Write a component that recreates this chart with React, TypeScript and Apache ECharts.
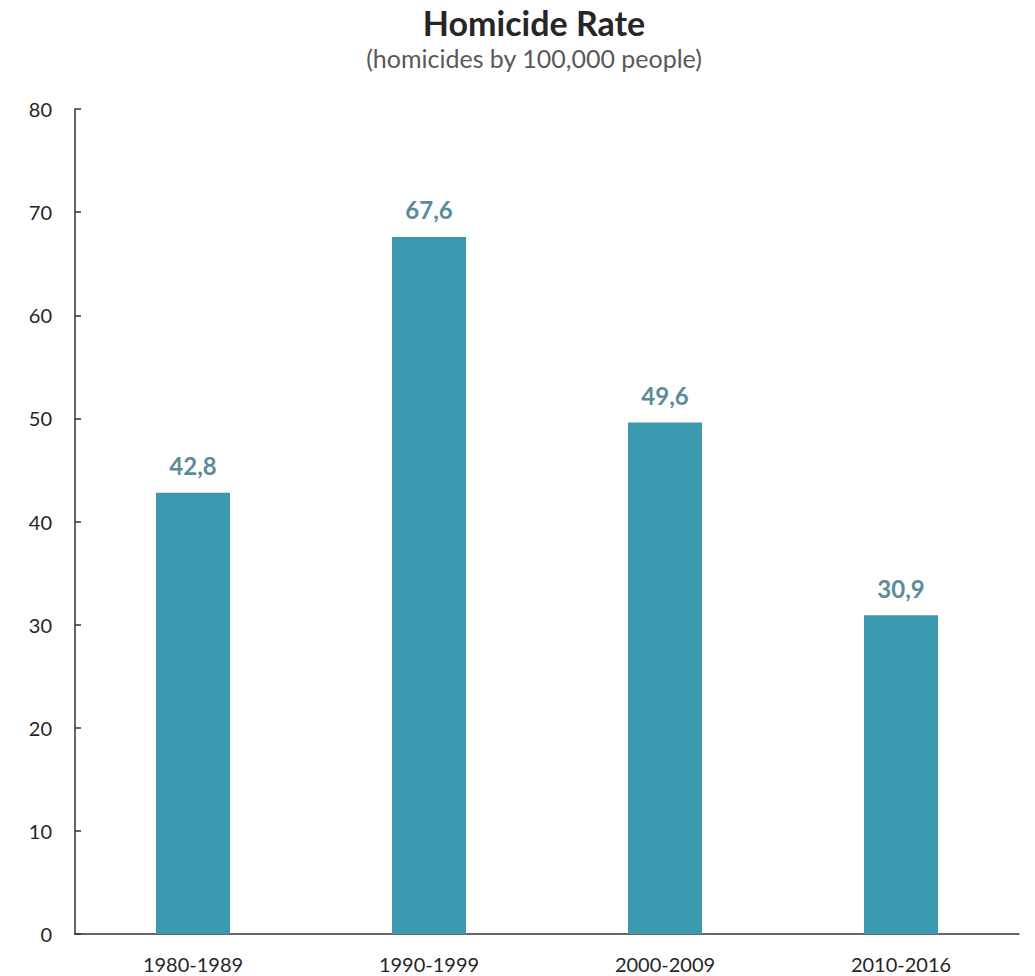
import React, { useEffect, useRef } from "react";
import * as echarts from "echarts";

const categories = ["1980-1989", "1990-1999", "2000-2009", "2010-2016"];
const values = [42.8, 67.6, 49.6, 30.9];
const yTicks = [0, 10, 20, 30, 40, 50, 60, 70, 80];

const FONT = "Lato, 'Open Sans', sans-serif";

export default function App() {
  const ref = useRef<HTMLDivElement>(null);
  useEffect(() => {
    if (!ref.current) return;
    const chart = echarts.init(ref.current, undefined, { renderer: "svg" });
    chart.setOption({
      animation: false,
      backgroundColor: "#ffffff",
      title: {
        text: "Homicide Rate",
        subtext: "(homicides by 100,000 people)",
        left: 529,
        top: 0,
        textAlign: "center",
        itemGap: 6,
        textStyle: { fontFamily: FONT, fontSize: 34, fontWeight: "bold", color: "#262626" },
        subtextStyle: { fontFamily: FONT, fontSize: 25, color: "#595959" },
      },
      grid: { left: 75, right: 16, top: 109, bottom: 42, containLabel: false },
      xAxis: {
        type: "category",
        data: categories,
        axisLine: { lineStyle: { color: "#333", width: 1.5 } },
        axisTick: { show: false },
        axisLabel: { fontFamily: FONT, fontSize: 20, color: "#262626", margin: 20 },
      },
      yAxis: {
        type: "value",
        min: yTicks[0],
        max: yTicks[yTicks.length - 1],
        interval: 10,
        splitLine: { show: false },
        axisLine: { show: true, lineStyle: { color: "#333", width: 1.5 } },
        axisTick: { show: true, inside: true, length: 6, lineStyle: { color: "#333", width: 1.5 } },
        axisLabel: { fontFamily: FONT, fontSize: 20, color: "#262626", margin: 23 },
      },
      series: [
        {
          type: "bar",
          data: values,
          barWidth: 74,
          itemStyle: { color: "#3A99AD" },
          label: {
            show: true,
            position: "top",
            distance: 15,
            fontFamily: FONT,
            fontSize: 24,
            fontWeight: "bold",
            color: "#5B8C99",
            formatter: (p: any) => String(p.value.toFixed(1)).replace(".", ","),
          },
        },
      ],
    });
    return () => chart.dispose();
  }, []);
  return (
    <div
      ref={ref}
      style={{ position: "fixed", left: 0, top: 0, width: 1035, height: 976 }}
    />
  );
}
